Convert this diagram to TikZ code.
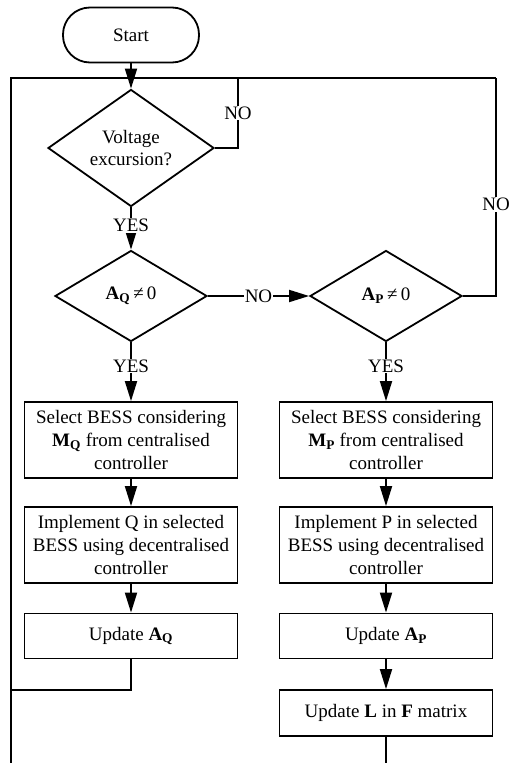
\documentclass[tikz,border=0pt]{standalone}
\usepackage{fontspec}
\setmainfont{Liberation Serif}
\usetikzlibrary{arrows.meta,shapes.geometric}

\newcommand{\bsub}[2]{\textbf{#1}\textsubscript{\textbf{#2}}}

\tikzset{
  base/.style={draw, line width=1.8pt, align=center, inner sep=2pt},
  terminal/.style={base, rectangle, rounded corners=27pt, minimum width=136pt, minimum height=55pt},
  decision/.style={base, diamond, inner sep=0pt},
  process/.style={base, rectangle, minimum width=213pt},
  flow/.style={line width=1.8pt},
  arrowflow/.style={flow, -{Triangle[length=20pt,width=12pt]}},
  lbl/.style={fill=white, inner sep=1pt}
}

\begin{document}
\begin{tikzpicture}[x=1pt, y=-1pt, font=\fontsize{19}{23.3}\selectfont]
  \useasboundingbox (0,0) rectangle (512,763);

  % nodes
  \node[terminal] (start) at (131,35) {Start};
  \node[decision, minimum width=166pt, minimum height=83pt] (volt) at (131,148) {Voltage\\[-2pt]excursion?};
  \node[decision, minimum width=152pt, minimum height=91pt] (aq) at (131,296) {\bsub{A}{Q}\,≠\,0};
  \node[decision, minimum width=152pt, minimum height=91pt] (ap) at (386,296) {\bsub{A}{P}\,≠\,0};

  \node[process, minimum height=76pt] (selq) at (131,440) {Select BESS considering\\\bsub{M}{Q} from centralised\\controller};
  \node[process, minimum height=76pt] (impq) at (131,545) {Implement Q in selected\\BESS using decentralised\\controller};
  \node[process, minimum height=45pt] (updq) at (131,636) {Update \bsub{A}{Q}};

  \node[process, minimum height=76pt] (selp) at (386,440) {Select BESS considering\\\bsub{M}{P} from centralised\\controller};
  \node[process, minimum height=76pt] (impp) at (386,545) {Implement P in selected\\BESS using decentralised\\controller};
  \node[process, minimum height=45pt] (updp) at (386,636) {Update \bsub{A}{P}};
  \node[process, minimum height=46pt] (updl) at (386,713) {Update \textbf{L} in \textbf{F} matrix};

  % loop-back rails
  \coordinate (tl) at (11,78);
  \coordinate (tr) at (496,78);
  \coordinate (bl) at (11,763);
  \coordinate (br) at (386,763);
  \coordinate (vloop) at (238,78);
  \coordinate (qret) at (11,690);

  \draw[flow] (bl) -- (tl) -- (tr);

  % connectors
  \draw[arrowflow] (start.south) -- (volt.north);
  \draw[flow] (volt.east) -| (vloop) node[lbl, pos=0.75] {NO};
  \draw[arrowflow] (volt.south) -- node[lbl, pos=0.42] {YES} (aq.north);
  \draw[arrowflow] (aq.east) -- node[lbl, pos=0.5] {NO} (ap.west);
  \draw[flow] (ap.east) -| (tr) node[lbl, pos=0.71] {NO};

  \draw[arrowflow] (aq.south) -- node[lbl, pos=0.4] {YES} (selq.north);
  \draw[arrowflow] (ap.south) -- node[lbl, pos=0.4] {YES} (selp.north);

  \draw[arrowflow] (selq.south) -- (impq.north);
  \draw[arrowflow] (impq.south) -- (updq.north);
  \draw[flow] (updq.south) |- (qret);

  \draw[arrowflow] (selp.south) -- (impp.north);
  \draw[arrowflow] (impp.south) -- (updp.north);
  \draw[arrowflow] (updp.south) -- (updl.north);
  \draw[flow] (updl.south) -- (br);
\end{tikzpicture}
\end{document}
